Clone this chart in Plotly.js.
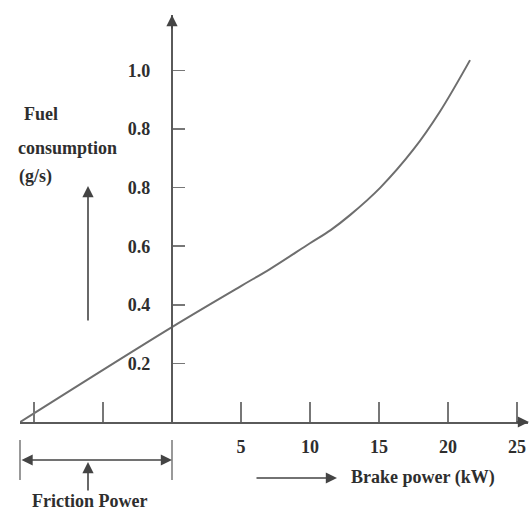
<!DOCTYPE html>
<html>
<head>
<meta charset="utf-8">
<script src="https://cdn.plot.ly/plotly-3.0.1.min.js"></script>
<style>html,body{margin:0;padding:0;background:#fff;}#chart{width:531px;height:513px;}</style>
</head>
<body>
<div id="chart"></div>
<script>
// Brake power (kW) and fuel consumption (g/s)
const brakePower = [-11, 0, 5, 7.1, 10, 11.5, 12.9, 15.1, 17.5, 19.4, 21.6];
const fuelRate   = [0, 0.324, 0.464, 0.522, 0.61, 0.655, 0.706, 0.80, 0.93, 1.058, 1.235];

// Axis ticks (labels as printed in the figure)
const xTickVals = [-10, -5, 5, 10, 15, 20, 25];
const xTickText = ["", "", "5", "10", "15", "20", "25"];
const yTickVals = [0.2, 0.4, 0.6, 0.8, 1.0, 1.2];
const yTickText = ["0.2", "0.4", "0.6", "0.8", "0.8", "1.0"];

const yLabelLines = ["Fuel", "consumption", "(g/s)"];
const xLabel = "Brake power (kW)";
const frictionLabel = "Friction Power";

// layout helpers: pixel -> paper (plot area px 20..528, py 15..422)
const L = 20, R = 3, T = 15, B = 91, W = 531, H = 513;
const pw = W - L - R, ph = H - T - B;
const px = v => (v - L) / pw;
const py = v => (H - B - v) / ph;

const FONT = "'Liberation Serif', 'Times New Roman', 'DejaVu Serif', serif";
const TXT = "#2e2e2e";
const AX = "#5a5a5a";

const xRange = [-11.01, 25.8];
const yRange = [0, 1.389];
const yAxisPos = (0 - xRange[0]) / (xRange[1] - xRange[0]);

const trace = {
  x: brakePower, y: fuelRate, type: "scatter", mode: "lines",
  line: {color: "#6e6e6e", width: 2, shape: "spline", smoothing: 1},
  hoverinfo: "skip"
};

const textAnn = (text, x, y, xanchor) => ({
  text: text, xref: "paper", yref: "paper", x: px(x), y: py(y),
  xanchor: xanchor || "left", yanchor: "middle", showarrow: false,
  font: {family: FONT, size: 18, color: TXT, weight: "bold"}
});
const arrowAnn = (hx, hy, tx, ty, side) => ({
  text: "", xref: "paper", yref: "paper", x: px(hx), y: py(hy),
  ax: tx - hx, ay: ty - hy, showarrow: true, arrowhead: 2, arrowsize: 1.4,
  arrowwidth: 1.6, arrowcolor: "#444", arrowside: side || "end", standoff: 0, startstandoff: 0
});

const annotations = [
  textAnn(yLabelLines[0], 22, 114),
  textAnn(yLabelLines[1], 16, 148),
  textAnn(yLabelLines[2], 17, 177),
  textAnn(xLabel, 349, 477),
  textAnn(frictionLabel, 89, 501, "center"),
  arrowAnn(529, 422, 515, 422),          // x-axis head
  arrowAnn(172, 15, 172, 30),            // y-axis head
  arrowAnn(88, 186, 88, 322),            // fuel label arrow
  arrowAnn(337, 478, 255, 478),          // brake power arrow
  arrowAnn(172, 460, 20, 460, "end+start"), // friction bracket
  arrowAnn(88, 462, 88, 492)             // friction up arrow
];

const shapes = [
  {type: "line", xref: "paper", yref: "paper", x0: px(20), x1: px(20), y0: py(440), y1: py(480), line: {color: "#777", width: 1.5}},
  {type: "line", xref: "paper", yref: "paper", x0: px(172), x1: px(172), y0: py(440), y1: py(480), line: {color: "#777", width: 1.5}}
];

const layout = {
  width: W, height: H,
  margin: {l: L, r: R, t: T, b: B, pad: 0},
  paper_bgcolor: "#fff", plot_bgcolor: "#fff",
  showlegend: false,
  xaxis: {
    range: xRange, showgrid: false, zeroline: false,
    showline: true, linecolor: AX, linewidth: 2,
    ticks: "inside", ticklen: 20, tickwidth: 1.5, tickcolor: "#777",
    tickmode: "array", tickvals: xTickVals, ticktext: xTickText,
    ticklabelstandoff: 7,
    tickfont: {family: FONT, size: 18, color: TXT, weight: "bold"}
  },
  yaxis: {
    range: yRange, showgrid: false, zeroline: false,
    anchor: "free", position: yAxisPos,
    showline: true, linecolor: AX, linewidth: 2,
    ticks: "inside", ticklen: 12, tickwidth: 1.5, tickcolor: "#777",
    tickmode: "array", tickvals: yTickVals, ticktext: yTickText,
    ticklabelstandoff: 17,
    tickfont: {family: FONT, size: 18, color: TXT, weight: "bold"}
  },
  annotations: annotations,
  shapes: shapes
};

Plotly.newPlot("chart", [trace], layout, {displayModeBar: false, staticPlot: true});
</script>
</body>
</html>
